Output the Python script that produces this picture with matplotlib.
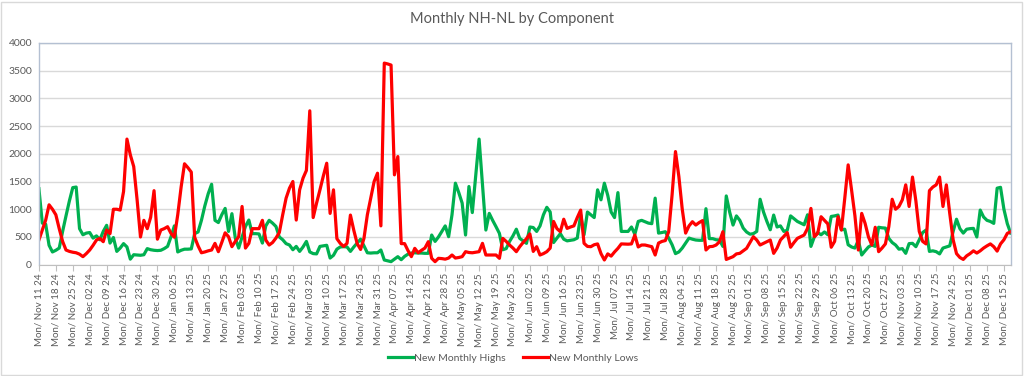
import numpy as np
import pandas as pd
import matplotlib
matplotlib.use('Agg')
import matplotlib.pyplot as plt
from matplotlib.patches import Rectangle

# weekly tick labels (every 5th trading day)
week_starts = pd.date_range('2024-11-11', '2025-12-15', freq='7D')
tick_labels = [d.strftime('Mon/ %b %d %y') for d in week_starts]

new_highs = [
    1370, 750, 730, 350, 230, 260, 300, 600, 880, 1150,
    1390, 1400, 650, 540, 570, 580, 480, 520, 450, 600,
    710, 390, 490, 240, 300, 380, 320, 100, 180, 175,
    170, 180, 290, 270, 260, 255, 260, 290, 330, 500, 700,
    230, 260, 280, 280, 285, 560, 590, 800, 1060, 1280,
    1450, 800, 760, 900, 1015, 600, 920, 480, 300, 500,
    690, 805, 560, 560, 555, 390, 700, 800, 750, 690,
    500, 450, 380, 355, 270, 330, 240, 320, 420, 230,
    200, 195, 330, 340, 350, 120, 170, 280, 320, 325,
    320, 240, 320, 390, 460, 340, 215, 210, 215, 215,
    265, 85, 70, 55, 100, 145, 90, 150, 190, 210,
    215, 210, 210, 205, 205, 535, 420, 500, 600, 700, 505,
    900, 1470, 1300, 1110, 535, 1410, 940, 1600, 2265, 1450,
    625, 925, 800, 685, 565, 270, 290, 420, 520, 640,
    475, 430, 385, 680, 670, 600, 700, 900, 1035, 950,
    400, 480, 560, 460, 430, 440, 450, 480, 900, 540,
    950, 900, 850, 1350, 1170, 1470, 1250, 950, 850, 1300,
    600, 600, 600, 680, 550, 780, 800, 775, 750, 740, 1200,
    570, 580, 595, 480, 360, 200, 230, 300, 390, 480,
    460, 445, 440, 440, 1010, 470, 470, 450, 445, 330,
    1240, 950, 715, 880, 800, 660, 590, 550, 560, 600,
    1180, 950, 780, 630, 895, 680, 700, 600, 620, 880,
    830, 780, 750, 720, 900, 330, 500, 580, 540, 590, 540,
    870, 880, 895, 630, 640, 360, 320, 300, 440, 175,
    250, 320, 355, 330, 675, 665, 660, 475, 400, 355,
    280, 290, 205, 380, 385, 325, 450, 580, 625, 240,
    250, 235, 195, 300, 320, 340, 600, 820, 650, 570,
    640, 650, 655, 500, 985, 860, 800, 780, 745, 1380, 1395,
    1000, 740, 570]

new_lows = [
    445, 625, 805, 1080, 1000, 900, 650, 420, 265, 240,
    225, 215, 190, 145, 200, 265, 350, 445, 475, 415,
    625, 560, 1000, 1000, 985, 1320, 2265, 1980, 1770, 1170,
    500, 800, 650, 855, 1335, 460, 625, 650, 685, 565, 495,
    900, 1400, 1820, 1750, 1670, 495, 340, 215, 230, 250,
    265, 385, 235, 400, 575, 505, 325, 420, 505, 1050,
    300, 385, 650, 650, 650, 800, 445, 355, 400, 480,
    580, 900, 1200, 1380, 1500, 805, 1350, 1560, 1700, 2775,
    850, 1110, 1350, 1600, 1830, 925, 1350, 470, 385, 330,
    385, 895, 620, 380, 275, 475, 900, 1200, 1500, 1650,
    700, 3635, 3620, 3600, 1620, 1950, 380, 380, 255, 145,
    295, 215, 260, 300, 415, 115, 55, 115, 110, 100, 120,
    175, 120, 130, 145, 235, 220, 215, 225, 235, 385,
    175, 175, 175, 175, 115, 475, 420, 355, 300, 235,
    325, 400, 470, 555, 240, 325, 175, 200, 235, 300,
    780, 650, 595, 820, 655, 680, 700, 850, 985, 385,
    330, 325, 360, 375, 200, 85, 195, 155, 230, 295,
    375, 372, 370, 375, 535, 320, 355, 355, 340, 325, 175,
    390, 420, 435, 595, 1260, 2040, 1590, 1000, 570, 700,
    775, 715, 760, 795, 265, 325, 330, 355, 415, 595,
    95, 120, 145, 195, 205, 250, 295, 400, 505, 445,
    355, 385, 415, 445, 205, 300, 445, 510, 580, 315,
    400, 475, 505, 535, 655, 1015, 505, 565, 865, 800, 735,
    315, 420, 865, 625, 1200, 1800, 1350, 880, 265, 925,
    745, 500, 355, 675, 235, 300, 375, 685, 1180, 1000,
    1050, 1170, 1440, 1050, 1580, 1150, 600, 420, 375, 1335,
    1400, 1440, 1580, 1050, 1440, 925, 450, 200, 130, 95,
    160, 200, 250, 210, 250, 300, 340, 375, 325, 245, 375,
    450, 565, 595]

plt.rcParams['font.family'] = ['Lato', 'DejaVu Sans']
text_col = '#595959'

fig = plt.figure(figsize=(10.24, 3.76), dpi=100)
ax = fig.add_axes([0.038, 0.296, 0.949, 0.590])

x = np.arange(len(new_highs))
ax.plot(x, new_highs, color='#00B050', lw=2.3, label='New Monthly Highs')
ax.plot(x, new_lows, color='#FF0000', lw=2.3, label='New Monthly Lows')

ax.set_xlim(0, len(x) - 1)
ax.set_ylim(0, 4000)
ax.set_yticks(np.arange(0, 4001, 500))
ax.set_xticks(np.arange(len(tick_labels)) * 5)
ax.set_xticklabels(tick_labels, rotation=90, fontsize=7, color=text_col)
ax.tick_params(axis='y', length=0, labelsize=7.5, labelcolor=text_col, pad=5)
ax.tick_params(axis='x', length=4, color='#bfbfbf', pad=2)
ax.yaxis.grid(True, color='#d9d9d9', lw=1)
ax.set_axisbelow(True)
for side in ['left', 'top', 'right']:
    ax.spines[side].set_color('#b4c0d2')
    ax.spines[side].set_linewidth(1)
ax.spines['bottom'].set_color('#bfbfbf')

fig.text(0.5, 0.95, 'Monthly NH-NL by Component', ha='center', va='center',
         fontsize=10.5, color=text_col)
fig.legend(loc='center', bbox_to_anchor=(0.501, 0.048), ncol=2, frameon=False,
           fontsize=7.5, labelcolor=text_col, handlelength=2.4, columnspacing=1.6,
           handletextpad=0.1)
fig.patches.append(Rectangle((0.001, 0.003), 0.997, 0.993, transform=fig.transFigure,
                             fill=False, edgecolor='#d9d9d9', lw=1))

fig.savefig('out.png', dpi=100, facecolor='white')
